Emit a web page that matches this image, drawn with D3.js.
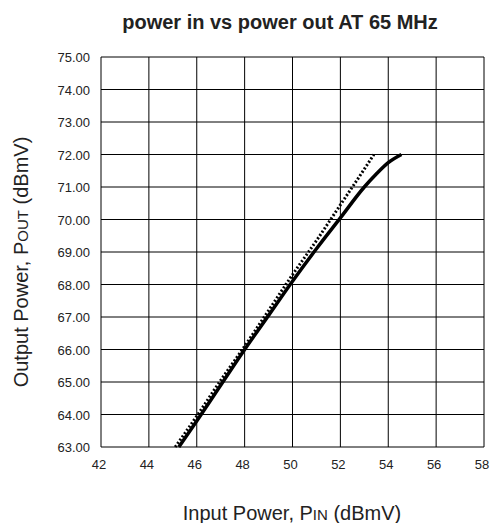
<!DOCTYPE html>
<html>
<head>
<meta charset="utf-8">
<script src="https://cdn.jsdelivr.net/npm/d3@7"></script>
<style>
  body { margin: 0; background: #fff; }
  svg { display: block; font-family: "Liberation Sans", Arial, sans-serif; }
</style>
</head>
<body>
<div id="chart"></div>
<script>
const measuredIn  = [45.25, 46, 47, 48, 49, 50, 51, 52, 53, 53.5, 54, 54.55];
const measuredOut = [63.0, 63.8, 64.9, 66.0, 67.05, 68.1, 69.1, 70.05, 71.0, 71.4, 71.75, 72.0];

// dotted (linear) curve
const linearIn  = [45.1, 46, 47, 48, 49, 50, 51, 52, 53, 53.4];
const linearOut = [63.0, 63.95, 65.05, 66.1, 67.2, 68.3, 69.35, 70.45, 71.55, 72.0];

const xTicks = [42, 44, 46, 48, 50, 52, 54, 56, 58];
const yTicks = [63, 64, 65, 66, 67, 68, 69, 70, 71, 72, 73, 74, 75];

const width = 495, height = 523;
const margin = {top: 57, right: 11, bottom: 76, left: 101};

const svg = d3.select("#chart").append("svg")
    .attr("width", width)
    .attr("height", height);

const x = d3.scaleLinear().domain([42, 58]).range([margin.left, width - margin.right]);
const y = d3.scaleLinear().domain([63, 75]).range([height - margin.bottom, margin.top]);

// grid
svg.append("g")
  .selectAll("line")
  .data(xTicks)
  .join("line")
    .attr("x1", d => x(d)).attr("x2", d => x(d))
    .attr("y1", y(63)).attr("y2", y(75))
    .attr("stroke", "#000")
    .attr("stroke-width", 1);

svg.append("g")
  .selectAll("line")
  .data(yTicks)
  .join("line")
    .attr("x1", x(42)).attr("x2", x(58))
    .attr("y1", d => y(d)).attr("y2", d => y(d))
    .attr("stroke", "#000")
    .attr("stroke-width", 1);

// tick labels
svg.append("g")
  .selectAll("text")
  .data(yTicks)
  .join("text")
    .attr("x", x(42) - 11)
    .attr("y", d => y(d) + 5)
    .attr("text-anchor", "end")
    .attr("font-size", 13)
    .attr("fill", "#222")
    .text(d => d.toFixed(2));

svg.append("g")
  .selectAll("text")
  .data(xTicks)
  .join("text")
    .attr("x", d => x(d) - 2)
    .attr("y", y(63) + 22)
    .attr("text-anchor", "middle")
    .attr("font-size", 13)
    .attr("fill", "#222")
    .text(d => d);

// lines
const line = d3.line().x(d => x(d[0])).y(d => y(d[1])).curve(d3.curveMonotoneX);

svg.append("path")
    .datum(d3.zip(linearIn, linearOut))
    .attr("fill", "none")
    .attr("stroke", "#000")
    .attr("stroke-width", 3)
    .attr("stroke-dasharray", "2 2")
    .attr("d", line);

svg.append("path")
    .datum(d3.zip(measuredIn, measuredOut))
    .attr("fill", "none")
    .attr("stroke", "#000")
    .attr("stroke-width", 3.5)
    .attr("d", line);

// titles
svg.append("text")
    .attr("x", 280)
    .attr("y", 29)
    .attr("text-anchor", "middle")
    .attr("font-size", 20)
    .attr("font-weight", "bold")
    .attr("fill", "#222")
    .text("power in vs power out AT 65 MHz");

const xt = svg.append("text")
    .attr("x", 292)
    .attr("y", 520)
    .attr("text-anchor", "middle")
    .attr("font-size", 20)
    .attr("fill", "#222");
xt.append("tspan").text("Input Power, P");
xt.append("tspan").attr("font-size", 15).text("IN");
xt.append("tspan").text(" (dBmV)");

const yt = svg.append("text")
    .attr("transform", "translate(28,262) rotate(-90)")
    .attr("text-anchor", "middle")
    .attr("font-size", 20)
    .attr("fill", "#222");
yt.append("tspan").text("Output Power, P");
yt.append("tspan").attr("font-size", 15).text("OUT");
yt.append("tspan").text(" (dBmV)");
</script>
</body>
</html>
